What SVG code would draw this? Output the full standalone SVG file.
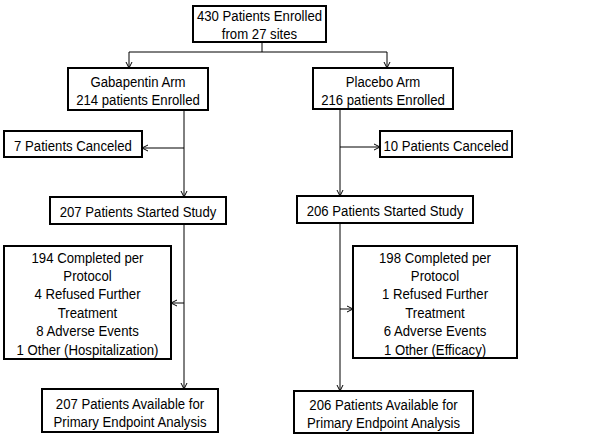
<svg xmlns="http://www.w3.org/2000/svg" width="614" height="439" viewBox="0 0 614 439">
<style>
.box{fill:#fff;stroke:#000;stroke-width:2}
.t{font-family:"Liberation Sans",Arial,sans-serif;font-size:15.5px;fill:#000;text-anchor:middle}
.c{fill:none;stroke:#000;stroke-width:1}
</style>
<defs>
<marker id="ah" markerUnits="userSpaceOnUse" markerWidth="8" markerHeight="8" refX="7" refY="4" orient="auto">
<path d="M1,1 L7,4 L1,7" fill="none" stroke="#000" stroke-width="1"/>
</marker>
</defs>
<rect width="614" height="439" fill="#fff"/>
<g id="connectors">
<path class="c" d="M262,42 V52"/>
<path class="c" d="M129,52 H387"/>
<path class="c" d="M129,52 V68" marker-end="url(#ah)"/>
<path class="c" d="M387,52 V68" marker-end="url(#ah)"/>
<path class="c" d="M184,110 V197" marker-end="url(#ah)"/>
<path class="c" d="M184,148 H142" marker-end="url(#ah)"/>
<path class="c" d="M340,109 V196" marker-end="url(#ah)"/>
<path class="c" d="M340,147 H380" marker-end="url(#ah)"/>
<path class="c" d="M184,224 V389" marker-end="url(#ah)"/>
<path class="c" d="M184,303 H171" marker-end="url(#ah)"/>
<path class="c" d="M340,223 V391" marker-end="url(#ah)"/>
<path class="c" d="M340,309 H353" marker-end="url(#ah)"/>
</g>
<g id="enrolled">
<rect class="box" x="193" y="6" width="133" height="36"/>
<text class="t" transform="translate(259.5,21) scale(0.85,1)">430 Patients Enrolled</text>
<text class="t" transform="translate(259.5,39) scale(0.85,1)">from 27 sites</text>
</g>
<g id="gabapentin">
<rect class="box" x="68" y="68" width="140" height="42"/>
<text class="t" transform="translate(138,86.5) scale(0.85,1)">Gabapentin Arm</text>
<text class="t" transform="translate(138,104.5) scale(0.85,1)">214 patients Enrolled</text>
</g>
<g id="placebo">
<rect class="box" x="313" y="68" width="140" height="41"/>
<text class="t" transform="translate(383,86.5) scale(0.85,1)">Placebo Arm</text>
<text class="t" transform="translate(383,104.5) scale(0.85,1)">216 patients Enrolled</text>
</g>
<g id="canceled-left">
<rect class="box" x="4" y="131" width="138" height="26"/>
<text class="t" transform="translate(73,150.5) scale(0.85,1)">7 Patients Canceled</text>
</g>
<g id="canceled-right">
<rect class="box" x="380" y="131" width="132" height="26"/>
<text class="t" transform="translate(446,150.5) scale(0.85,1)">10 Patients Canceled</text>
</g>
<g id="started-left">
<rect class="box" x="50" y="197" width="176" height="27"/>
<text class="t" transform="translate(138,217) scale(0.85,1)">207 Patients Started Study</text>
</g>
<g id="started-right">
<rect class="box" x="297" y="196" width="176" height="27"/>
<text class="t" transform="translate(385,216) scale(0.85,1)">206 Patients Started Study</text>
</g>
<g id="outcomes-left">
<rect class="box" x="4" y="246" width="167" height="113"/>
<text class="t" transform="translate(87.5,262.5) scale(0.85,1)">194 Completed per</text>
<text class="t" transform="translate(87.5,281) scale(0.85,1)">Protocol</text>
<text class="t" transform="translate(87.5,299) scale(0.85,1)">4 Refused Further</text>
<text class="t" transform="translate(87.5,317.5) scale(0.85,1)">Treatment</text>
<text class="t" transform="translate(87.5,336) scale(0.85,1)">8 Adverse Events</text>
<text class="t" transform="translate(87.5,354.5) scale(0.85,1)">1 Other (Hospitalization)</text>
</g>
<g id="outcomes-right">
<rect class="box" x="353" y="246" width="164" height="112"/>
<text class="t" transform="translate(435,262.5) scale(0.85,1)">198 Completed per</text>
<text class="t" transform="translate(435,281) scale(0.85,1)">Protocol</text>
<text class="t" transform="translate(435,299) scale(0.85,1)">1 Refused Further</text>
<text class="t" transform="translate(435,317.5) scale(0.85,1)">Treatment</text>
<text class="t" transform="translate(435,336) scale(0.85,1)">6 Adverse Events</text>
<text class="t" transform="translate(435,354.5) scale(0.85,1)">1 Other (Efficacy)</text>
</g>
<g id="available-left">
<rect class="box" x="42" y="389" width="176" height="43"/>
<text class="t" transform="translate(130,408.5) scale(0.85,1)">207 Patients Available for</text>
<text class="t" transform="translate(130,426.5) scale(0.85,1)">Primary Endpoint Analysis</text>
</g>
<g id="available-right">
<rect class="box" x="294" y="391" width="179" height="42"/>
<text class="t" transform="translate(383.5,409.5) scale(0.85,1)">206 Patients Available for</text>
<text class="t" transform="translate(383.5,427.5) scale(0.85,1)">Primary Endpoint Analysis</text>
</g>
</svg>
